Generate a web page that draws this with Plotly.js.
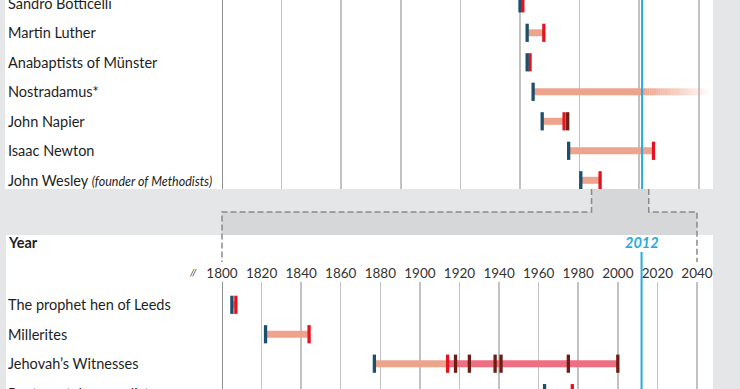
<!DOCTYPE html>
<html><head><meta charset="utf-8">
<script src="https://cdn.plot.ly/plotly-3.0.1.min.js"></script>
<style>html,body{margin:0;padding:0;background:#e5e6e8;}#chart{width:740px;height:389px;}</style>
</head><body><div id="chart"></div>
<script>
// ---------------- data ----------------
const topNames = ['Sandro Botticelli','Martin Luther','Anabaptists of Münster','Nostradamus*','John Napier','Isaac Newton','John Wesley'];
const topNotes = ['','','','','','','(founder of Methodists)'];
const topMade  = [1500,1530,1530,1555,1593,1704,1755];
const topDoom  = [1512,1600,1542,3797,1685,2060,1836];
const topLater = [[],[],[],[],[1700],[],[]];

const botNames = ['The prophet hen of Leeds','Millerites','Jehovah’s Witnesses','Pentecostal evangelist'];
const botMade  = [1805,1822,1877,1963];
const botDoom  = [1807,1844,1914,1977];
const botLater = [[],[],[1918,1925,1938,1941,1975,2000],[]];

const topGrid  = [500,750,1000,1250,1500,1750,2000,2250];
const botTicks = [1800,1820,1840,1860,1880,1900,1920,1940,1960,1980,2000,2020,2040];
const nowYear  = 2012;
const zoomFrom = 1800, zoomTo = 2040;

// ---------------- layout geometry (pixels) ----------------
const W = 740, H = 389;
const plotL = 222, plotR = 713;
const topPx = [0, 189], botPx = [282, 389];
const topRange = [250, 2309.5], botRange = [1800, 2048.1];
const topYRange = [6.295, -0.112], botYRange = [2.859, -0.774];

const C = {
  bg:'#e5e6e8', band:'#d6d7d9', white:'#ffffff', grid:'#c2c2c2', axis:'#8e8e8e',
  made:'#1d4e6c', doom:'#e5131f', later:'#6e1c14', bar:'#eea48c', bar2:'#ef6f82',
  now:'#27a9e1', text:'#1e1e1e', dash:'#8a8a8a'
};
const FONT = 'Lato, "Open Sans", sans-serif';

const px = x => x / W;
const py = y => 1 - y / H;
const yrTop = y => plotL + (y - topRange[0]) / (topRange[1] - topRange[0]) * (plotR - plotL);
const yrBot = y => plotL + (y - botRange[0]) / (botRange[1] - botRange[0]) * (plotR - plotL);
const rowTop = i => topPx[0] + (i - topYRange[1]) / (topYRange[0] - topYRange[1]) * (topPx[1] - topPx[0]);
const rowBot = i => botPx[0] + (i - botYRange[1]) / (botYRange[0] - botYRange[1]) * (botPx[1] - botPx[0]);

const traces = [];
function barTrace(xs, ys, color, xa, ya, opacity) {
  traces.push({type:'scatter', mode:'lines', x:xs, y:ys, xaxis:xa, yaxis:ya,
    line:{color:color, width:7}, opacity: opacity===undefined?1:opacity, hoverinfo:'skip', showlegend:false});
}
function markTrace(xs, ys, color, xa, ya) {
  traces.push({type:'scatter', mode:'markers', x:xs, y:ys, xaxis:xa, yaxis:ya,
    marker:{symbol:'line-ns', size:13, line:{color:color, width:3.3}}, hoverinfo:'skip', showlegend:false});
}

// ---- top panel bars ----
const fadeFrom = 2025, fadeTo = 2300;
{
  const bx = [], by = [];
  topNames.forEach((n, i) => {
    const end = Math.min(topDoom[i], topRange[1]);
    if (topDoom[i] > topRange[1]) {
      bx.push(topMade[i], fadeFrom, null); by.push(n, n, null);
      const N = 30;
      for (let k = 0; k < N; k++) {
        const a = fadeFrom + (fadeTo - fadeFrom) * k / N;
        const b = fadeFrom + (fadeTo - fadeFrom) * (k + 1) / N;
        barTrace([a, b], [n, n], C.bar, 'x', 'y', 1 - (k + 0.5) / N);
      }
    } else {
      bx.push(topMade[i], end, null); by.push(n, n, null);
    }
  });
  barTrace(bx, by, C.bar, 'x', 'y');
  const dx = [], dy = [], lx = [], ly = [];
  topNames.forEach((n, i) => {
    if (topDoom[i] <= topRange[1]) { dx.push(topDoom[i]); dy.push(n); }
    topLater[i].forEach(v => { lx.push(v); ly.push(n); });
  });
  markTrace(dx, dy, C.doom, 'x', 'y');
  markTrace(lx, ly, C.later, 'x', 'y');
  markTrace(topMade, topNames, C.made, 'x', 'y');
}

// ---- bottom panel bars ----
{
  const bx = [], by = [], px2 = [], py2 = [];
  botNames.forEach((n, i) => {
    bx.push(botMade[i], botDoom[i], null); by.push(n, n, null);
    if (botLater[i].length) {
      px2.push(botDoom[i], botLater[i][botLater[i].length - 1], null); py2.push(n, n, null);
    }
  });
  barTrace(bx, by, C.bar, 'x2', 'y2');
  barTrace(px2, py2, C.bar2, 'x2', 'y2');
  const lx = [], ly = [];
  botNames.forEach((n, i) => botLater[i].forEach(v => { lx.push(v); ly.push(n); }));
  markTrace(botDoom, botNames, C.doom, 'x2', 'y2');
  markTrace(lx, ly, C.later, 'x2', 'y2');
  markTrace(botMade, botNames, C.made, 'x2', 'y2');
}

// ---- shapes ----
const nL = yrTop(zoomFrom), nR = yrTop(zoomTo), bL = yrBot(zoomFrom), bR = yrBot(zoomTo);
const shapes = [
  {type:'rect', xref:'paper', yref:'paper', x0:px(5), x1:px(plotR), y0:py(189), y1:py(0), fillcolor:C.white, line:{width:0}, layer:'below'},
  {type:'rect', xref:'paper', yref:'paper', x0:px(6), x1:px(plotR), y0:py(H), y1:py(235), fillcolor:C.white, line:{width:0}, layer:'below'},
  {type:'rect', xref:'paper', yref:'paper', x0:px(nL), x1:px(nR), y0:py(212), y1:py(189), fillcolor:C.band, line:{width:0}, layer:'below'},
  {type:'rect', xref:'paper', yref:'paper', x0:px(bL), x1:px(bR), y0:py(235), y1:py(212), fillcolor:C.band, line:{width:0}, layer:'below'},
  {type:'path', xref:'paper', yref:'paper', layer:'above',
    path:`M${px(nL)},${py(189)} L${px(nL)},${py(212)} L${px(bL)},${py(212)} L${px(bL)},${py(262)}`,
    line:{color:C.dash, width:1.5, dash:'6px,3px'}},
  {type:'path', xref:'paper', yref:'paper', layer:'above',
    path:`M${px(nR)},${py(189)} L${px(nR)},${py(212)} L${px(bR)},${py(212)} L${px(bR)},${py(262)}`,
    line:{color:C.dash, width:1.5, dash:'6px,3px'}},
  {type:'line', xref:'x', yref:'paper', x0:topRange[0], x1:topRange[0], y0:py(189), y1:py(0), line:{color:C.axis, width:2}},
  {type:'line', xref:'x2', yref:'paper', x0:botRange[0], x1:botRange[0], y0:py(H), y1:py(botPx[0]), line:{color:C.axis, width:2}},
  {type:'line', xref:'x', yref:'paper', x0:nowYear, x1:nowYear, y0:py(189), y1:py(0), line:{color:C.now, width:2}, layer:'above'},
  {type:'line', xref:'x2', yref:'paper', x0:nowYear, x1:nowYear, y0:py(H), y1:py(252), line:{color:C.now, width:2}, layer:'above'}
];

// ---- annotations ----
const annotations = [];
topNames.forEach((n, i) => {
  const note = topNotes[i] ? ` <i><span style="font-size:12.5px">${topNotes[i]}</span></i>` : '';
  annotations.push({xref:'paper', yref:'paper', x:px(6), y:py(rowTop(i)), xanchor:'left', yanchor:'middle',
    text:n + note, showarrow:false, font:{family:FONT, size:14.5, color:C.text}});
});
botNames.forEach((n, i) => {
  annotations.push({xref:'paper', yref:'paper', x:px(6), y:py(rowBot(i)), xanchor:'left', yanchor:'middle',
    text:n, showarrow:false, font:{family:FONT, size:14.5, color:C.text}});
});
annotations.push({xref:'paper', yref:'paper', x:px(6), y:py(242), xanchor:'left', yanchor:'middle',
  text:'<b>Year</b>', showarrow:false, font:{family:FONT, size:14.5, color:C.text}});
annotations.push({xref:'x2', yref:'paper', x:nowYear, y:py(242), xanchor:'center', yanchor:'middle',
  text:'<b><i>2012</i></b>', showarrow:false, font:{family:FONT, size:14.5, color:C.now}});
annotations.push({xref:'paper', yref:'paper', x:px(193), y:py(272), xanchor:'center', yanchor:'middle',
  text:'<i>//</i>', showarrow:false, font:{family:FONT, size:10, color:'#444'}});

const layout = {
  width:W, height:H, margin:{l:0, r:0, t:0, b:0},
  paper_bgcolor:C.bg, plot_bgcolor:'rgba(0,0,0,0)', showlegend:false, hovermode:false,
  xaxis:{domain:[px(plotL), px(plotR)], range:topRange, anchor:'y', tickvals:topGrid,
    showgrid:true, gridcolor:C.grid, gridwidth:1.5, showticklabels:false, ticks:'', zeroline:false, showline:false},
  yaxis:{domain:[py(topPx[1]), py(topPx[0])], range:topYRange, type:'category', categoryarray:topNames,
    showgrid:false, showticklabels:false, ticks:'', zeroline:false, showline:false},
  xaxis2:{domain:[px(plotL), px(plotR)], range:botRange, anchor:'y2', side:'top', tickvals:botTicks,
    showgrid:true, gridcolor:C.grid, gridwidth:1.5, showticklabels:true, ticks:'', zeroline:false, showline:false,
    tickfont:{family:FONT, size:13.5, color:'#333'}},
  yaxis2:{domain:[py(botPx[1]), py(botPx[0])], range:botYRange, type:'category', categoryarray:botNames,
    showgrid:false, showticklabels:false, ticks:'', zeroline:false, showline:false},
  shapes:shapes, annotations:annotations
};
Plotly.newPlot('chart', traces, layout, {staticPlot:true, displayModeBar:false});
</script></body></html>
